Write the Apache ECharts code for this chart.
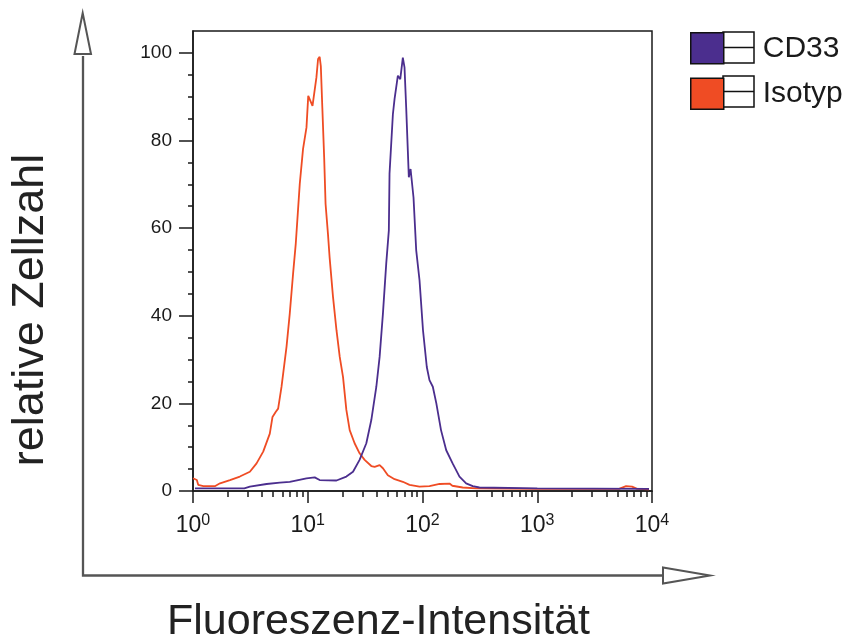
<!DOCTYPE html>
<html>
<head>
<meta charset="utf-8">
<script src="https://cdn.jsdelivr.net/npm/echarts@6/dist/echarts.min.js"></script>
<style>
  html, body { margin: 0; padding: 0; background: #fff; }
  #chart { width: 856px; height: 640px; }
</style>
</head>
<body>
<div id="chart"></div>
<script>
// Flow cytometry histograms: fluorescence intensity (log) vs. relative cell count
const isotypX = [1.0, 1.08, 1.11, 1.23, 1.55, 1.72, 2.10, 2.56, 3.13, 3.58, 4.09, 4.67, 4.93, 5.27, 5.52, 5.91,
  6.53, 6.97, 7.45, 7.86, 8.52, 9.10, 9.42, 9.75, 10.1, 10.4, 11.0, 11.35, 11.9, 12.3, 12.7, 13.0, 13.4, 13.9,
  14.3, 15.0, 15.5, 16.6, 17.8, 19.0, 20.3, 21.7, 23.2, 25.6, 28.3, 31.3, 35.8, 38.3, 42.3, 45.2, 49.9, 57.1,
  67.4, 77.1, 94.2, 115, 141, 172, 182, 224, 293, 1000, 5160, 5940, 6700, 7410, 9420];
const isotypY = [2.9, 2.5, 1.4, 1.1, 1.1, 1.75, 2.5, 3.3, 4.4, 6.3, 9.0, 13.1, 16.9, 18.1, 18.8, 23.8,
  32.9, 40.5, 49.6, 56.4, 70.1, 78.1, 78.4, 83, 90.2, 90.4, 87.9, 87.7, 94.4, 98.6, 99.1, 97, 87.5, 76.2,
  65.5, 58.7, 53.4, 44.3, 36.7, 30.6, 26, 18.5, 13.9, 10.9, 8.6, 7.1, 5.7, 5.5, 5.9, 5.2, 3.6, 2.7,
  2.1, 1.4, 1.0, 1.1, 1.6, 1.7, 1.2, 0.8, 0.6, 0.5, 0.5, 1.1, 1.0, 0.5, 0.4];

const cd33X = [1.04, 2.8, 3.13, 4.38, 5.71, 6.97, 9.75, 11.5, 12.7, 17.8, 21.7, 24.8, 28.3, 32.4, 35.8, 39.6,
  42.3, 45.2, 48.3, 50.9, 51.6, 55.2, 57.1, 59.8, 61.0, 64.0, 67.4, 69.7, 72.1, 74.5, 76.0, 78.7, 80.7,
  83.5, 88.1, 94.2, 101, 109, 115, 123, 132, 145, 161, 183, 210, 240, 274, 313, 1000, 9420];
const cd33Y = [0.6, 0.6, 1.0, 1.6, 1.9, 2.1, 2.9, 3.1, 2.5, 2.4, 3.3, 4.4, 7.1, 10.9, 16.2, 23.8,
  30.6, 40.5, 51.9, 59.5, 72.4, 86, 89.5, 93.2, 94.8, 94, 98.9, 96.7, 87.5, 77.7, 71.6, 73.5, 73.9,
  67, 55, 48.1, 36.7, 28.3, 25.3, 23.8, 20, 13.9, 9.3, 6.3, 3.3, 1.75, 1.1, 0.8, 0.6, 0.5];

const seriesNames = ['CD33', 'Isotyp'];
const yMajorTicks = [0, 20, 40, 60, 80, 100];
const yMinorTicks = [5, 10, 15, 25, 30, 35, 45, 50, 55, 65, 70, 75, 85, 90, 95];
const xDecades = [1, 10, 100, 1000, 10000];
const xMinorTicks = [2, 3, 4, 5, 6, 7, 8, 9, 20, 30, 40, 50, 60, 70, 80, 90,
  200, 300, 400, 500, 600, 700, 800, 900, 2000, 3000, 4000, 5000, 6000, 7000, 8000, 9000];

const FONT = '"Liberation Sans", Arial, Helvetica, sans-serif';
const INK = '#1a1a1a';
const ARROW = '#555';
const COLOR_CD33 = '#4b2e8e';
const COLOR_ISO = '#ef4c24';

const pairs = (xs, ys) => xs.map((x, i) => [x, ys[i]]);

const chart = echarts.init(document.getElementById('chart'));

const option = {
  animation: false,
  backgroundColor: '#fff',
  grid: {
    left: 193, right: 204, top: 31, bottom: 149,
    outerBoundsMode: 'none', containLabel: false,
    show: true, borderColor: INK, borderWidth: 1.5, backgroundColor: 'transparent'
  },
  legend: {
    data: seriesNames,
    orient: 'vertical',
    left: 690, top: 32, padding: 0,
    itemWidth: 33, itemHeight: 31, itemGap: 13,
    icon: 'rect',
    selectedMode: false,
    itemStyle: { borderColor: '#111', borderWidth: 1.5 },
    textStyle: { fontFamily: FONT, fontSize: 30, color: INK, padding: [0, 0, 0, 34] }
  },
  xAxis: [
    {
      type: 'log', logBase: 10, min: 1, max: 10000,
      position: 'bottom',
      name: 'Fluoreszenz-Intensität',
      nameLocation: 'middle', nameGap: 110,
      nameTextStyle: { fontFamily: FONT, fontSize: 43, color: '#222', padding: [0, 88, 0, 0] },
      axisLine: { show: true, onZero: false, lineStyle: { color: INK, width: 1.5 } },
      axisTick: { show: true, length: 12, customValues: xDecades, lineStyle: { color: INK, width: 1.5 } },
      axisLabel: {
        customValues: xDecades, margin: 22,
        formatter: v => '{b|10}{e|' + Math.round(Math.log10(v)) + '}',
        rich: {
          b: { fontFamily: FONT, fontSize: 23, color: INK },
          e: { fontFamily: FONT, fontSize: 16, color: INK, verticalAlign: 'top', padding: [0, 0, 10, 0] }
        }
      },
      splitLine: { show: false }
    },
    {
      type: 'log', logBase: 10, min: 1, max: 10000,
      position: 'bottom',
      axisLine: { show: false },
      axisTick: { show: true, length: 6, customValues: xMinorTicks, lineStyle: { color: INK, width: 1.5 } },
      axisLabel: { show: false },
      splitLine: { show: false }
    }
  ],
  yAxis: [
    {
      type: 'value', min: 0, max: 105,
      position: 'left',
      name: 'relative Zellzahl',
      nameLocation: 'middle', nameRotate: 90, nameGap: 140,
      nameTextStyle: { fontFamily: FONT, fontSize: 45, color: '#222', padding: [0, 98, 0, 0] },
      axisLine: { show: true, lineStyle: { color: INK, width: 1.5 } },
      axisTick: { show: true, length: 14, customValues: yMajorTicks, lineStyle: { color: INK, width: 1.5 } },
      axisLabel: { customValues: yMajorTicks, margin: 21, fontFamily: FONT, fontSize: 19, color: INK },
      splitLine: { show: false }
    },
    {
      type: 'value', min: 0, max: 105,
      position: 'left',
      axisLine: { show: false },
      axisTick: { show: true, length: 5, customValues: yMinorTicks, lineStyle: { color: INK, width: 1.5 } },
      axisLabel: { show: false },
      splitLine: { show: false }
    }
  ],
  series: [
    {
      name: 'Isotyp', type: 'line', xAxisIndex: 0, yAxisIndex: 0,
      data: pairs(isotypX, isotypY),
      showSymbol: false, symbol: 'none',
      color: COLOR_ISO,
      lineStyle: { width: 1.8, color: COLOR_ISO }
    },
    {
      name: 'CD33', type: 'line', xAxisIndex: 0, yAxisIndex: 0,
      data: pairs(cd33X, cd33Y),
      showSymbol: false, symbol: 'none',
      color: COLOR_CD33,
      lineStyle: { width: 1.8, color: COLOR_CD33 }
    }
  ],
  graphic: [
    // split white cells beside each legend swatch
    { type: 'rect', shape: { x: 723, y: 32, width: 31, height: 31 }, style: { fill: '#fff', stroke: '#111', lineWidth: 1.5 } },
    { type: 'line', shape: { x1: 723, y1: 47.5, x2: 754, y2: 47.5 }, style: { stroke: '#111', lineWidth: 1.5 } },
    { type: 'rect', shape: { x: 723, y: 76, width: 31, height: 31 }, style: { fill: '#fff', stroke: '#111', lineWidth: 1.5 } },
    { type: 'line', shape: { x1: 723, y1: 91.5, x2: 754, y2: 91.5 }, style: { stroke: '#111', lineWidth: 1.5 } },
    // outer axis arrows
    { type: 'polyline', shape: { points: [[83, 56], [83, 575.5], [663, 575.5]] }, style: { stroke: ARROW, lineWidth: 2.3, fill: null } },
    { type: 'polygon', shape: { points: [[82.7, 13], [74.5, 54], [91, 54]] }, style: { fill: '#fff', stroke: ARROW, lineWidth: 2 } },
    { type: 'polygon', shape: { points: [[663, 567.5], [710, 575.5], [663, 583.5]] }, style: { fill: '#fff', stroke: ARROW, lineWidth: 2 } }
  ]
};

chart.setOption(option);
</script>
</body>
</html>
